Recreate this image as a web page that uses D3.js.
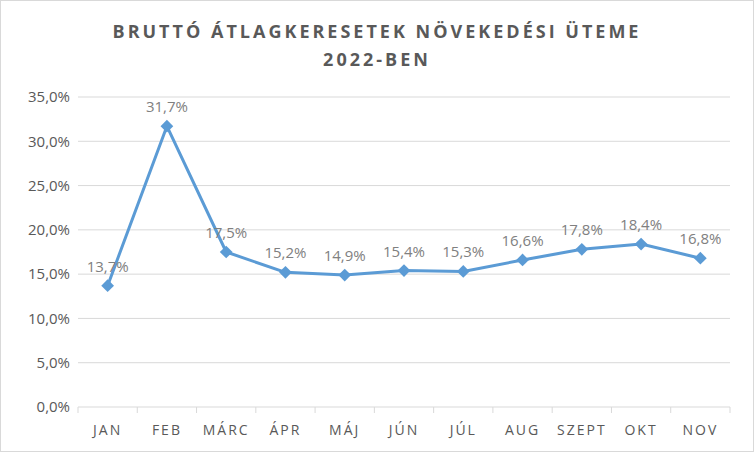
<!DOCTYPE html>
<html><head><meta charset="utf-8">
<script src="https://cdn.jsdelivr.net/npm/d3@7"></script>
<style>body{margin:0;background:#fff;font-family:"Open Sans","Liberation Sans",Arial,sans-serif}</style>
</head><body><div id="chart"></div>
<script>
// Data
const months = ["JAN","FEB","MÁRC","ÁPR","MÁJ","JÚN","JÚL","AUG","SZEPT","OKT","NOV"];
const growth = [13.7,31.7,17.5,15.2,14.9,15.4,15.3,16.6,17.8,18.4,16.8];
const yTicks = [0,5,10,15,20,25,30,35];

const W = 754, H = 452;
const margin = {top: 97, right: 24, bottom: 45, left: 78};
const width = W - margin.left - margin.right, height = H - margin.top - margin.bottom;

const root = d3.select("#chart").append("svg").attr("width", W).attr("height", H);
root.append("rect").attr("x",0.5).attr("y",0.5).attr("width",W-1).attr("height",H-1)
    .attr("fill","#fff").attr("stroke","#d9d9d9");

root.append("text").attr("x", W/2).attr("y", 38).attr("text-anchor","middle")
    .attr("fill","#595959").style("font-size","18px").style("font-weight","bold").style("letter-spacing","3px")
    .text("BRUTTÓ ÁTLAGKERESETEK NÖVEKEDÉSI ÜTEME");
root.append("text").attr("x", W/2).attr("y", 66).attr("text-anchor","middle")
    .attr("fill","#595959").style("font-size","18px").style("font-weight","bold").style("letter-spacing","3px")
    .text("2022-BEN");

const svg = root.append("g").attr("transform", `translate(${margin.left},${margin.top})`);

const x = d3.scaleBand().domain(months).range([0, width]);
const y = d3.scaleLinear().domain([0, 35]).range([height, 0]);
const fmt = v => d3.format(".1f")(v).replace(".", ",") + "%";

// Gridlines
svg.selectAll(".grid").data(yTicks).enter().append("line")
    .attr("x1",0).attr("x2",width).attr("y1",d=>y(d)).attr("y2",d=>y(d))
    .attr("stroke","#d9d9d9");

// Y labels
svg.selectAll(".ylab").data(yTicks).enter().append("text")
    .attr("x",-8).attr("y",d=>y(d)).attr("dy","0.35em").attr("text-anchor","end")
    .attr("fill","#595959").style("font-size","15px").text(d=>fmt(d));

// X axis ticks
const bounds = months.map(m => x(m)).concat([width]);
svg.selectAll(".xt").data(bounds).enter().append("line")
    .attr("x1",d=>d).attr("x2",d=>d).attr("y1",height).attr("y2",height+6)
    .attr("stroke","#d9d9d9");
svg.selectAll(".xlab").data(months).enter().append("text")
    .attr("x",d=>x(d)+x.bandwidth()/2).attr("y",height+28).attr("text-anchor","middle")
    .attr("fill","#595959").style("font-size","14px").style("letter-spacing","2px").text(d=>d);

const cx = (d,i) => x(months[i]) + x.bandwidth()/2;
svg.append("path").datum(growth)
    .attr("d", d3.line().x(cx).y(d=>y(d)))
    .attr("fill","none").attr("stroke","#5B9BD5").attr("stroke-width",3).attr("stroke-linejoin","round");

svg.selectAll(".pt").data(growth).enter().append("rect")
    .attr("x",-4.5).attr("y",-4.5).attr("width",9).attr("height",9)
    .attr("transform",(d,i)=>`translate(${cx(d,i)},${y(d)}) rotate(45)`)
    .attr("fill","#5B9BD5");

svg.selectAll(".lab").data(growth).enter().append("text")
    .attr("x",(d,i)=>cx(d,i)).attr("y",d=>y(d)-14).attr("text-anchor","middle")
    .attr("fill","#808080").style("font-size","15px").text(d=>fmt(d));
</script></body></html>
